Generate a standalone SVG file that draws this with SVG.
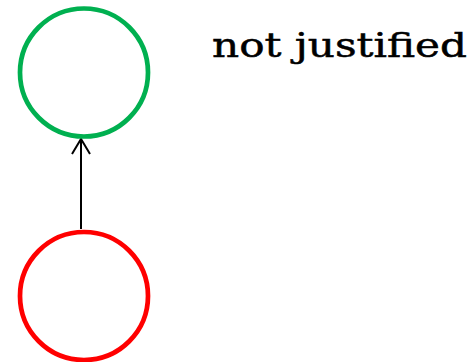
<svg xmlns="http://www.w3.org/2000/svg" width="475" height="362" viewBox="0 0 475 362">
<style>
.node{fill:none;stroke-width:4.7}
.edge{stroke:#000;stroke-width:2;fill:none}
.lbl{font-family:"DejaVu Serif","Liberation Serif",serif;font-size:34px;fill:#000;stroke:#000;stroke-width:0.5}
</style>
<g id="connectors">
<line class="edge" x1="81" y1="229" x2="81" y2="140"/>
<path d="M72,154 L81,139 L90,154" class="edge"/>
</g>
<g id="justified-node"><circle class="node" cx="84" cy="72.5" r="64" stroke="#00B050"/></g>
<g id="unjustified-node"><circle class="node" cx="84" cy="296" r="64" stroke="#FF0000"/></g>
<text class="lbl" x="212" y="57" textLength="255" lengthAdjust="spacingAndGlyphs">not justified</text>
</svg>
